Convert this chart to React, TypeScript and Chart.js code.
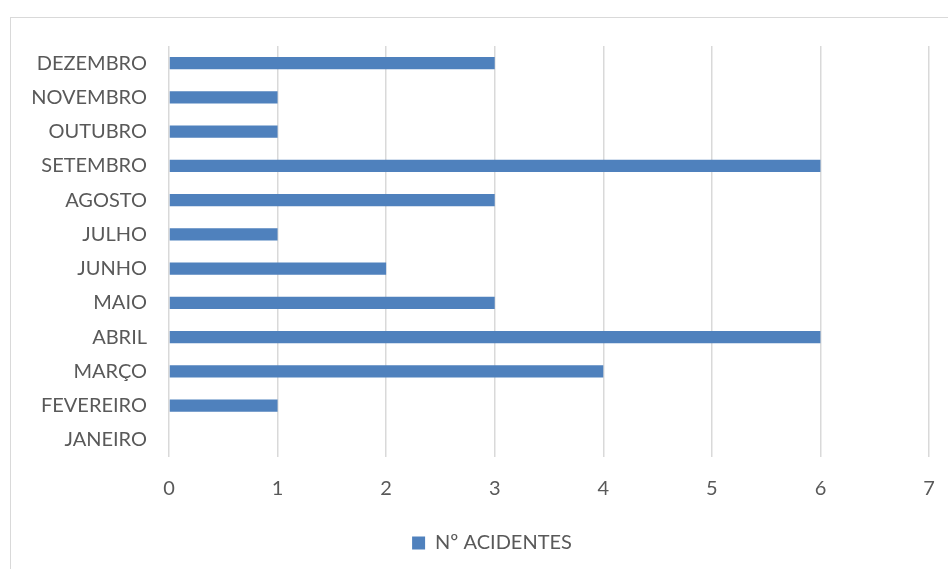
import React, { useEffect, useRef } from "react";
import { Chart, registerables } from "chart.js";

Chart.register(...registerables);

const months = [
  "JANEIRO",
  "FEVEREIRO",
  "MARÇO",
  "ABRIL",
  "MAIO",
  "JUNHO",
  "JULHO",
  "AGOSTO",
  "SETEMBRO",
  "OUTUBRO",
  "NOVEMBRO",
  "DEZEMBRO",
];
const acidentes = [0, 1, 4, 6, 3, 2, 1, 3, 6, 1, 1, 3];
const seriesLabel = "Nº ACIDENTES";
const axisMax = 7;

const FONT = "Lato, 'Open Sans', sans-serif";
const TEXT = "#595959";
const GRID = "#d9d9d9";
const BAR = "#4f81bd";

// nudges the bottom legend a little to the right of the canvas centre
const legendShift = {
  id: "legendShift",
  afterLayout(chart: any) {
    const lg = chart.legend;
    if (!lg) return;
    lg.left += 22;
    lg.right += 22;
  },
};

export default function App() {
  const canvasRef = useRef<HTMLCanvasElement | null>(null);

  useEffect(() => {
    const canvas = canvasRef.current;
    if (!canvas) return;
    const chart = new Chart(canvas, {
      type: "bar",
      data: {
        labels: months,
        datasets: [
          {
            label: seriesLabel,
            data: acidentes,
            backgroundColor: BAR,
            borderWidth: 0,
            categoryPercentage: 1,
            barPercentage: 0.36,
          },
        ],
      },
      plugins: [legendShift],
      options: {
        indexAxis: "y",
        animation: false,
        responsive: false,
        maintainAspectRatio: false,
        layout: { padding: { top: 28, right: 19, bottom: 6, left: 0 } },
        plugins: {
          tooltip: { enabled: false },
          legend: {
            position: "bottom",
            labels: {
              color: TEXT,
              font: { family: FONT, size: 20 },
              boxWidth: 13,
              boxHeight: 13,
              padding: 12,
            },
          },
        },
        scales: {
          x: {
            min: 0,
            max: axisMax,
            ticks: {
              stepSize: 1,
              color: TEXT,
              font: { family: FONT, size: 20 },
              padding: 20,
            },
            grid: { color: GRID, lineWidth: 1.5, drawTicks: false },
            border: { display: false },
            afterFit: (scale: any) => {
              scale.paddingLeft = 0;
              scale.paddingRight = 0;
            },
          },
          y: {
            reverse: true,
            ticks: {
              color: TEXT,
              font: { family: FONT, size: 20 },
              padding: 22,
            },
            grid: { display: false, drawTicks: false },
            border: { display: false },
            afterFit: (scale: any) => {
              scale.width = 158;
              scale.paddingTop = 0;
              scale.paddingBottom = 0;
            },
          },
        },
      },
    });
    return () => chart.destroy();
  }, []);

  return (
    <div
      style={{
        position: "fixed",
        left: 0,
        top: 0,
        width: 948,
        height: 569,
        overflow: "hidden",
        background: "#ffffff",
      }}
    >
      <div
        style={{
          position: "absolute",
          left: 10,
          top: 17,
          width: 960,
          height: 580,
          border: "1px solid #d9d9d9",
          background: "#ffffff",
        }}
      >
        <canvas
          ref={canvasRef}
          width={937}
          height={551}
          style={{ display: "block", width: 937, height: 551 }}
        />
      </div>
    </div>
  );
}
